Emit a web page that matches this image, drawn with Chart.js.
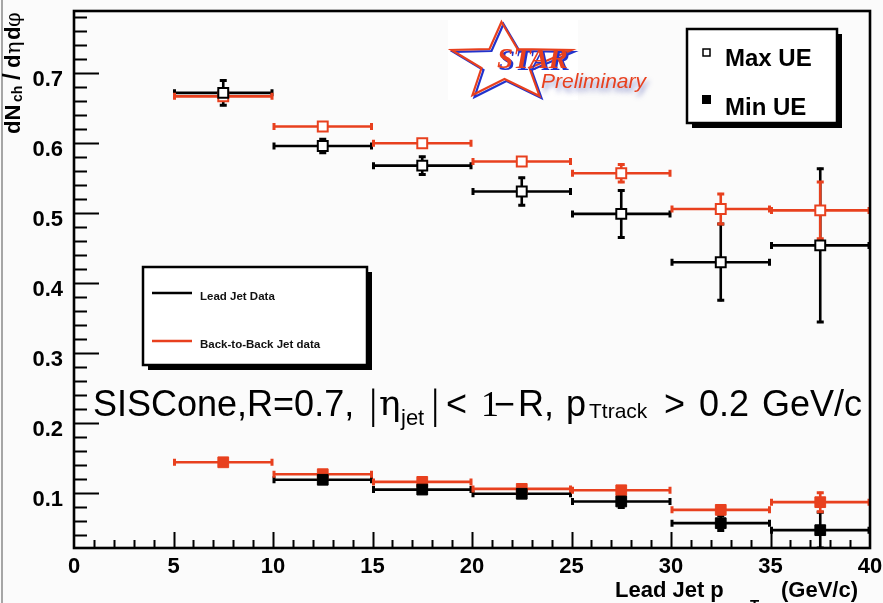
<!DOCTYPE html>
<html><head><meta charset="utf-8">
<script src="https://cdn.jsdelivr.net/npm/chart.js@4"></script>
<style>html,body{margin:0;padding:0;background:#fbfbfb;}canvas{display:block}</style>
</head><body>
<canvas id="c" width="883" height="603"></canvas>
<script>
// ---- data ----
const binCenters    = [7.5, 12.5, 17.5, 22.5, 27.5, 32.5, 37.5];
const binHalfWidths = [2.5, 2.5, 2.5, 2.5, 2.5, 2.5, 2.5];

const leadJetMaxUE     = [0.672, 0.596, 0.568, 0.531, 0.499, 0.430, 0.454];
const leadJetMaxUEErr  = [0.019, 0.011, 0.014, 0.021, 0.035, 0.056, 0.111];
const backJetMaxUE     = [0.667, 0.624, 0.600, 0.574, 0.557, 0.506, 0.504];
const backJetMaxUEErr  = [0.004, 0.004, 0.004, 0.004, 0.014, 0.023, 0.042];

const leadJetMinUE     = [null, 0.119, 0.105, 0.099, 0.088, 0.057, 0.047];
const leadJetMinUEErr  = [0, 0.003, 0.003, 0.003, 0.010, 0.012, 0.027];
const backJetMinUE     = [0.144, 0.127, 0.116, 0.106, 0.104, 0.076, 0.087];
const backJetMinUEErr  = [0.003, 0.003, 0.003, 0.003, 0.003, 0.004, 0.015];

const xTickValues = [0, 5, 10, 15, 20, 25, 30, 35, 40];
const yTickValues = [0.1, 0.2, 0.3, 0.4, 0.5, 0.6, 0.7];
const xRange = [0, 40];
const yRange = [0.0215, 0.789];

const RED = '#e8401e';
const BLACK = '#000000';
const SANS = '"Liberation Sans", Arial, Helvetica, sans-serif';

function pts(vals) { return binCenters.map((x, i) => ({x: x, y: vals[i]})); }

function mkSet(label, vals, errs, color, open) {
  return {
    label: label,
    data: pts(vals),
    errY: errs,
    errX: binHalfWidths,
    showLine: false,
    pointStyle: 'rect',
    pointRadius: open ? 7 : 7.6,
    pointHoverRadius: open ? 7 : 7.6,
    pointBorderWidth: open ? 2 : 1,
    pointBorderColor: color,
    pointBackgroundColor: open ? '#ffffff' : color,
    borderColor: color,
    backgroundColor: color
  };
}

// error bars drawn through the scales
const errorBars = {
  id: 'errorBars',
  beforeDatasetsDraw(chart) {
    const ctx = chart.ctx, xs = chart.scales.x, ys = chart.scales.y, a = chart.chartArea;
    ctx.save();
    ctx.beginPath(); ctx.rect(a.left, a.top, a.right - a.left, a.bottom - a.top); ctx.clip();
    chart.data.datasets.forEach(ds => {
      ctx.strokeStyle = ds.borderColor;
      ds.data.forEach((p, i) => {
        if (p.y === null || p.y === undefined) return;
        const px = xs.getPixelForValue(p.x), py = ys.getPixelForValue(p.y);
        const xl = xs.getPixelForValue(p.x - ds.errX[i]), xr = xs.getPixelForValue(p.x + ds.errX[i]);
        ctx.lineWidth = 2.6;
        ctx.beginPath(); ctx.moveTo(xl, py); ctx.lineTo(xr, py); ctx.stroke();
        ctx.lineWidth = 3;
        ctx.beginPath();
        ctx.moveTo(xl + 1, py - 3.5); ctx.lineTo(xl + 1, py + 3.5);
        ctx.moveTo(xr - 1, py - 3.5); ctx.lineTo(xr - 1, py + 3.5);
        ctx.stroke();
        const yt = ys.getPixelForValue(p.y + ds.errY[i]), yb = ys.getPixelForValue(p.y - ds.errY[i]);
        if (yb - yt > 12) {
          ctx.lineWidth = 2.6;
          ctx.beginPath(); ctx.moveTo(px, yt); ctx.lineTo(px, yb); ctx.stroke();
          ctx.lineWidth = 3;
          ctx.beginPath();
          ctx.moveTo(px - 3.5, yt + 1); ctx.lineTo(px + 3.5, yt + 1);
          ctx.moveTo(px - 3.5, yb - 1); ctx.lineTo(px + 3.5, yb - 1);
          ctx.stroke();
        }
      });
    });
    ctx.restore();
  }
};

// ROOT-like frame with inner ticks
const frame = {
  id: 'frame',
  beforeDraw(chart) {
    const ctx = chart.ctx;
    ctx.save();
    ctx.fillStyle = '#fbfbfb';
    ctx.fillRect(0, 0, chart.width, chart.height);
    ctx.strokeStyle = '#8a8a8a'; ctx.lineWidth = 1.5;
    ctx.beginPath(); ctx.moveTo(2, 0); ctx.lineTo(2, chart.height); ctx.stroke();
    ctx.restore();
  },
  afterDatasetsDraw(chart) {
    const ctx = chart.ctx, xs = chart.scales.x, ys = chart.scales.y, a = chart.chartArea;
    ctx.save();
    ctx.strokeStyle = '#000';
    ctx.lineWidth = 2;
    ctx.beginPath();
    for (let k = 2; k <= 39; k++) {
      const v = k * 0.02; if (v < yRange[0] || v > yRange[1]) continue;
      const py = Math.round(ys.getPixelForValue(v)) + 0.5;
      const len = (k % 5 === 0) ? 25 : 13;
      ctx.moveTo(a.left, py); ctx.lineTo(a.left + len, py);
    }
    for (let k = 1; k < 40; k++) {
      const px = Math.round(xs.getPixelForValue(k)) + 0.5;
      const len = (k % 5 === 0) ? 16 : 8;
      ctx.moveTo(px, a.bottom); ctx.lineTo(px, a.bottom - len);
    }
    ctx.stroke();
    ctx.lineWidth = 2.6;
    ctx.strokeRect(a.left, a.top, a.right - a.left, a.bottom - a.top);
    ctx.restore();
  }
};

function boxWithShadow(ctx, x, y, w, h, off) {
  ctx.fillStyle = '#000';
  ctx.fillRect(x + off, y + off, w, h);
  ctx.fillStyle = '#fff';
  ctx.fillRect(x, y, w, h);
  ctx.strokeStyle = '#000'; ctx.lineWidth = 2.5;
  ctx.strokeRect(x, y, w, h);
}

const decorations = {
  id: 'decorations',
  afterDraw(chart) {
    const ctx = chart.ctx;
    ctx.save();
    ctx.textBaseline = 'alphabetic';
    ctx.textAlign = 'left';

    // ---- Y title (rotated) ----
    ctx.save();
    ctx.translate(20, 134);
    ctx.rotate(-Math.PI / 2);
    ctx.fillStyle = '#000';
    const yt = [
      ['dN', 'bold 22px ' + SANS, 0, 0],
      ['ch', 'bold 14px ' + SANS, 32, 2],
      ['/', 'bold 24px ' + SANS, 54, 0],
      ['d', 'bold 22px ' + SANS, 66, 0],
      ['η', '21px "DejaVu Serif", serif', 80, 0],
      ['d', 'bold 22px ' + SANS, 94, 0],
      ['φ', '21px "DejaVu Serif", serif', 107, 0]
    ];
    yt.forEach(t => { ctx.font = t[1]; ctx.fillText(t[0], t[2], t[3]); });
    ctx.restore();

    // ---- X title ----
    ctx.fillStyle = '#000';
    ctx.font = 'bold 22px ' + SANS;
    ctx.fillText('Lead Jet p', 615, 597);
    ctx.font = 'bold 15px ' + SANS;
    ctx.fillText('T', 750, 610);
    ctx.font = 'bold 22px ' + SANS;
    ctx.textAlign = 'right';
    ctx.fillText('(GeV/c)', 858, 597);
    ctx.textAlign = 'left';

    // ---- Max/Min UE legend ----
    boxWithShadow(ctx, 687, 29, 150, 94, 5);
    ctx.strokeStyle = '#000'; ctx.lineWidth = 1.5;
    ctx.fillStyle = '#fff';
    ctx.fillRect(703, 49, 7, 7); ctx.strokeRect(703, 49, 7, 7);
    ctx.fillStyle = '#000';
    ctx.fillRect(702, 95, 9, 9);
    ctx.font = 'bold 24px ' + SANS;
    ctx.fillText('Max UE', 725, 66);
    ctx.fillText('Min UE', 725, 115);

    // ---- line legend ----
    boxWithShadow(ctx, 143, 267, 224, 98, 5);
    ctx.lineWidth = 2.5;
    ctx.strokeStyle = BLACK;
    ctx.beginPath(); ctx.moveTo(152, 293); ctx.lineTo(192, 293); ctx.stroke();
    ctx.strokeStyle = RED;
    ctx.beginPath(); ctx.moveTo(152, 341); ctx.lineTo(192, 341); ctx.stroke();
    ctx.fillStyle = '#111';
    ctx.font = 'bold 11.5px ' + SANS;
    ctx.fillText('Lead Jet Data', 200, 300);
    ctx.fillText('Back-to-Back Jet data', 200, 348);

    // ---- SISCone annotation ----
    ctx.fillStyle = '#000';
    const big = '36px ' + SANS, sub = '21px ' + SANS, ser = '36px "Liberation Serif", "Times New Roman", serif';
    const bar = '42px "Liberation Serif", serif';
    const parts = [
      ['SISCone,R=0.7,', big, 93, 416],
      ['|', bar, 369, 418],
      ['η', '36px "DejaVu Serif", serif', 379, 415],
      ['jet', '22px ' + SANS, 401, 425],
      ['|', bar, 431, 418],
      ['<', big, 446, 416],
      ['1', ser, 481, 416],
      ['−', big, 494, 416],
      ['R,', big, 518, 416],
      ['p', big, 566, 416],
      ['Ttrack', sub, 589, 418],
      ['>', big, 664, 416],
      ['0.2', big, 699, 416],
      ['GeV/c', big, 762, 416]
    ];
    parts.forEach(p => { ctx.font = p[1]; ctx.fillText(p[0], p[2], p[3]); });

    // ---- STAR Preliminary logo ----
    ctx.fillStyle = '#ffffff';
    ctx.fillRect(448, 20, 130, 80);
    const star = [[502, 22], [518, 49], [572, 50], [530, 68], [540, 96], [505, 79], [473, 95], [482, 68], [452, 50], [490, 49]];
    function drawStar(dx, dy, col) {
      ctx.strokeStyle = col; ctx.lineWidth = 2.2;
      ctx.beginPath();
      star.forEach((s, i) => { if (i === 0) ctx.moveTo(s[0] + dx, s[1] + dy); else ctx.lineTo(s[0] + dx, s[1] + dy); });
      ctx.closePath(); ctx.stroke();
    }
    drawStar(1.5, 2, '#2233cc');
    drawStar(-0.5, 0, RED);
    ctx.font = 'italic bold 29px "Liberation Serif", "Times New Roman", serif';
    ctx.fillStyle = '#2233cc';
    ctx.fillText('STAR', 499, 70);
    ctx.fillStyle = RED;
    ctx.fillText('STAR', 497, 68);
    ctx.save();
    ctx.shadowColor = 'rgba(60,70,170,0.6)';
    ctx.shadowBlur = 5; ctx.shadowOffsetX = 2; ctx.shadowOffsetY = 4;
    ctx.font = 'italic 21px ' + SANS;
    ctx.fillStyle = RED;
    ctx.fillText('Preliminary', 541, 88);
    ctx.restore();

    ctx.restore();
  }
};

const chart = new Chart(document.getElementById('c'), {
  type: 'scatter',
  data: {
    datasets: [
      mkSet('Lead Jet Data Max UE', leadJetMaxUE, leadJetMaxUEErr, BLACK, true),
      mkSet('Lead Jet Data Min UE', leadJetMinUE, leadJetMinUEErr, BLACK, false),
      mkSet('Back-to-Back Jet data Max UE', backJetMaxUE, backJetMaxUEErr, RED, true),
      mkSet('Back-to-Back Jet data Min UE', backJetMinUE, backJetMinUEErr, RED, false)
    ]
  },
  options: {
    responsive: false,
    animation: false,
    devicePixelRatio: 1,
    layout: { padding: { left: 0, right: 13, top: 11, bottom: 0 } },
    plugins: { legend: { display: false }, tooltip: { enabled: false } },
    scales: {
      x: {
        type: 'linear', min: xRange[0], max: xRange[1],
        afterFit: s => { s.height = 55; s.paddingLeft = 0; s.paddingRight = 0; },
        afterBuildTicks: s => { s.ticks = xTickValues.map(v => ({value: v})); },
        grid: { display: false, drawTicks: false },
        border: { display: false },
        ticks: { color: '#000', padding: 6, maxRotation: 0, autoSkip: false,
                 font: { family: SANS, size: 22, weight: 'bold' },
                 callback: v => String(v) }
      },
      y: {
        type: 'linear', min: yRange[0], max: yRange[1],
        afterFit: s => { s.width = 74; s.paddingTop = 0; s.paddingBottom = 0; },
        afterBuildTicks: s => { s.ticks = yTickValues.map(v => ({value: v})); },
        grid: { display: false, drawTicks: false },
        border: { display: false },
        ticks: { color: '#000', padding: 11, labelOffset: 7, autoSkip: false,
                 font: { family: SANS, size: 22, weight: 'bold' },
                 callback: v => Number(v).toFixed(1) }
      }
    }
  },
  plugins: [frame, errorBars, decorations]
});
</script>
</body></html>
